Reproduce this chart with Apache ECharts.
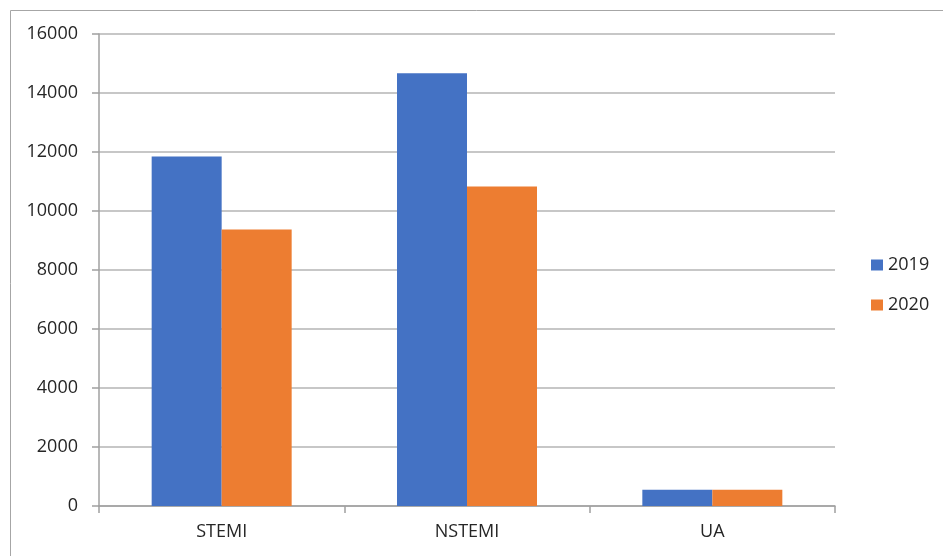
<!DOCTYPE html>
<html>
<head>
<meta charset="utf-8">
<script src="https://cdn.jsdelivr.net/npm/echarts@6/dist/echarts.min.js"></script>
<style>
  html, body { margin: 0; padding: 0; background: #fff; }
  #chart { width: 943px; height: 556px; }
</style>
</head>
<body>
<div id="chart"></div>
<script>
// Infarction type counts per year
const categories = ['STEMI', 'NSTEMI', 'UA'];
const years = ['2019', '2020'];
const values2019 = [11850, 14670, 550];
const values2020 = [9370, 10830, 550];
const yTicks = { min: 0, max: 16000, interval: 2000 };

const chart = echarts.init(document.getElementById('chart'), null, { renderer: 'canvas' });
const textColor = '#262626';
const fontFamily = '"Open Sans", "Noto Sans", sans-serif';

chart.setOption({
  animation: false,
  backgroundColor: '#fff',
  textStyle: { fontFamily: fontFamily },
  graphic: [
    { type: 'line', shape: { x1: 10.5, y1: 10.5, x2: 943, y2: 10.5 }, style: { stroke: '#a6a6a6', lineWidth: 1 } },
    { type: 'line', shape: { x1: 10.5, y1: 10.5, x2: 10.5, y2: 556 }, style: { stroke: '#a6a6a6', lineWidth: 1 } }
  ],
  grid: { left: 99, right: 108, top: 34, bottom: 50, containLabel: false },
  legend: {
    orient: 'vertical',
    left: 871,
    top: 256,
    padding: 0,
    itemWidth: 12,
    itemHeight: 11,
    itemGap: 22,
    icon: 'rect',
    textStyle: { fontSize: 18, color: textColor, fontFamily: fontFamily },
    data: years
  },
  xAxis: {
    type: 'category',
    data: categories,
    axisLine: { show: true, lineStyle: { color: '#a0a0a0', width: 1.5 } },
    axisTick: { show: true, length: 7, lineStyle: { color: '#a0a0a0', width: 1.5 } },
    axisLabel: { fontSize: 18, color: textColor, margin: 17, fontFamily: fontFamily },
    splitLine: { show: false }
  },
  yAxis: {
    type: 'value',
    min: yTicks.min,
    max: yTicks.max,
    interval: yTicks.interval,
    axisLine: { show: true, lineStyle: { color: '#a0a0a0', width: 1.5 } },
    axisTick: { show: true, length: 7, lineStyle: { color: '#a0a0a0', width: 1.5 } },
    axisLabel: {
      fontSize: 18,
      color: textColor,
      margin: 21,
      fontFamily: fontFamily,
      formatter: function (v) { return String(v); }
    },
    splitLine: { show: true, lineStyle: { color: '#b4b4b4', width: 1.5 } }
  },
  series: [
    {
      name: years[0],
      type: 'bar',
      data: values2019,
      barWidth: 70,
      barGap: '0%',
      itemStyle: { color: '#4472C4' }
    },
    {
      name: years[1],
      type: 'bar',
      data: values2020,
      barWidth: 70,
      barGap: '0%',
      itemStyle: { color: '#ED7D31' }
    }
  ]
});
</script>
</body>
</html>
